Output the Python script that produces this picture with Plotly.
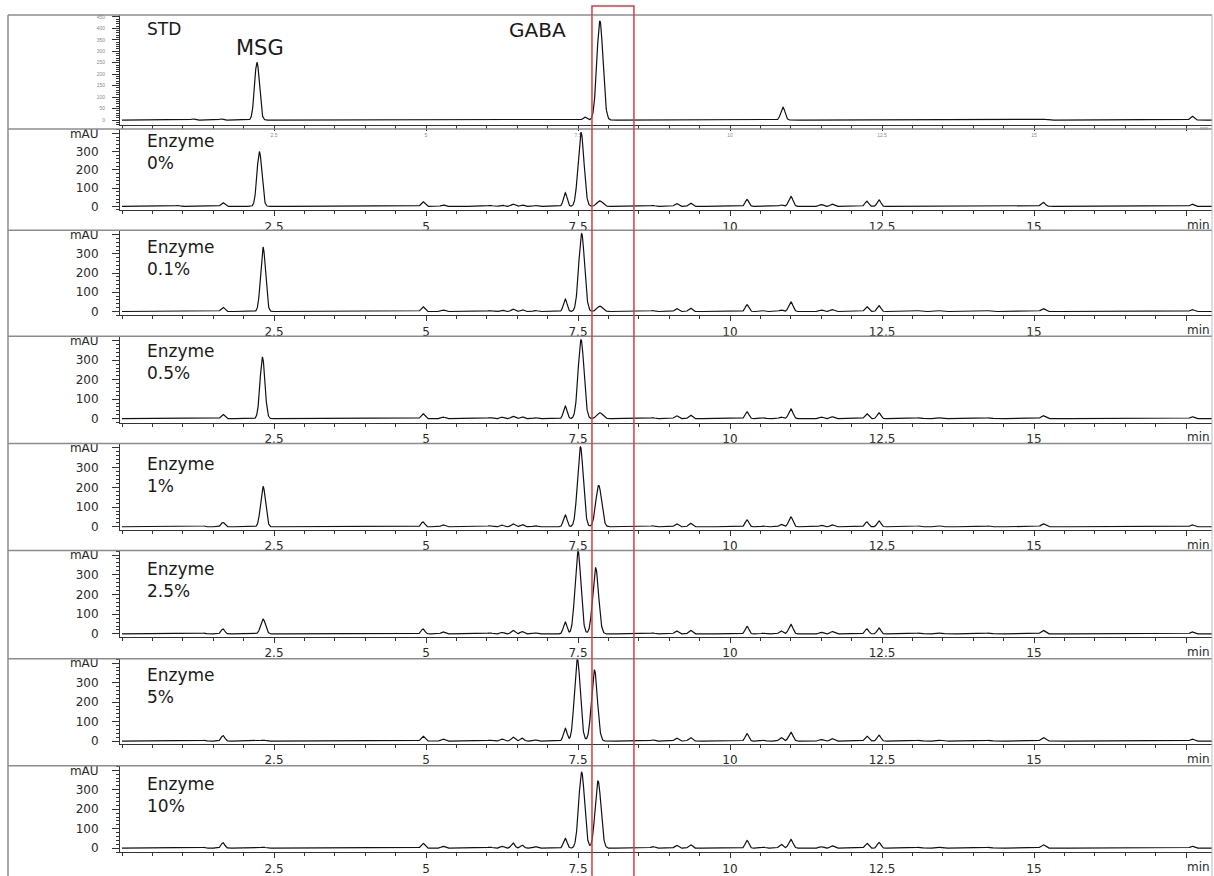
import numpy as np
import plotly.graph_objects as go

W, H = 1214, 876

# ---------------- data ----------------
# STD chromatogram peak table (retention time, min / height, arbitrary units)
std_rt = [1.17, 1.63, 2.22, 7.61, 7.86, 10.87, 15.15, 17.60]
std_h = [5, 5, 252, 13, 432, 56, 4, 17]
std_w = [0.03, 0.03, 0.04, 0.03, 0.05, 0.035, 0.05, 0.03]

sample_labels = ["Enzyme<br>0%", "Enzyme<br>0.1%", "Enzyme<br>0.5%", "Enzyme<br>1%",
                 "Enzyme<br>2.5%", "Enzyme<br>5%", "Enzyme<br>10%"]

# common peak retention times (min) for the enzyme samples
peak_rt = [0.92, 1.35, 1.66, 2.32, 4.95, 5.28, 6.05, 6.25, 6.43, 6.58, 6.80, 7.29, 7.55, 7.84,
           8.73, 9.12, 9.35, 10.28, 10.55, 10.84, 11.00, 11.50, 11.68, 12.25, 12.45, 13.10,
           13.45, 13.90, 14.25, 15.15, 17.60]
peak_w = [0.03, 0.03, 0.03, 0.04, 0.03, 0.03, 0.04, 0.03, 0.03, 0.03, 0.03, 0.03, 0.048, 0.048,
          0.03, 0.03, 0.03, 0.03, 0.03, 0.03, 0.035, 0.03, 0.03, 0.03, 0.03, 0.05,
          0.05, 0.05, 0.05, 0.035, 0.03]

# per-sample retention times of MSG, main peak and GABA
msg_rt = [2.26, 2.32, 2.31, 2.32, 2.32, 2.32, 2.32]
main_rt = [7.55, 7.56, 7.55, 7.54, 7.50, 7.49, 7.56]
gaba_rt = [7.86, 7.86, 7.86, 7.84, 7.79, 7.77, 7.83]

# peak heights (mAU) per sample, aligned with peak_rt
h_0 = [5, 3, 20, 300, 25, 8, 5, 8, 12, 8, 5, 75, 405, 30, 5, 15, 18, 38, 4, 8, 55, 10, 12, 28, 35, 4, 4, 3, 4, 22, 12]
h_01 = [3, 3, 22, 335, 25, 8, 5, 8, 12, 10, 5, 65, 405, 28, 5, 15, 18, 35, 4, 8, 50, 8, 10, 25, 30, 4, 4, 3, 4, 15, 10]
h_05 = [3, 3, 22, 315, 25, 8, 5, 8, 12, 10, 5, 65, 405, 30, 5, 15, 18, 35, 4, 8, 50, 8, 10, 25, 30, 4, 4, 3, 4, 15, 10]
h_1 = [3, 4, 22, 205, 25, 10, 5, 8, 15, 12, 5, 60, 405, 210, 5, 15, 18, 35, 4, 12, 50, 8, 10, 25, 30, 4, 4, 3, 4, 15, 10]
h_25 = [3, 4, 25, 75, 25, 10, 5, 8, 18, 12, 5, 60, 420, 335, 5, 15, 18, 38, 4, 15, 48, 8, 12, 25, 30, 4, 4, 3, 4, 18, 10]
h_5 = [3, 4, 28, 5, 25, 10, 5, 10, 20, 15, 6, 65, 420, 365, 6, 15, 18, 38, 4, 18, 45, 8, 12, 25, 30, 4, 4, 3, 4, 18, 10]
h_10 = [3, 4, 28, 5, 25, 10, 5, 10, 27, 15, 8, 50, 390, 345, 8, 15, 18, 40, 5, 20, 45, 8, 12, 25, 30, 4, 4, 3, 4, 18, 10]
sample_heights = [h_0, h_01, h_05, h_1, h_25, h_5, h_10]

x_tickvals = [2.5, 5, 7.5, 10, 12.5, 15, 17.5]
x_ticktext = ["2.5", "5", "7.5", "10", "12.5", "15", ""]
x_unit = "min"
y_tickvals = [0, 100, 200, 300, 400]
y_ticktext = ["0", "100", "200", "300", "mAU"]
std_y_tickvals = [0, 50, 100, 150, 200, 250, 300, 350, 400, 450]
std_y_ticktext = ["0", "50", "100", "150", "200", "250", "300", "350", "400", "450"]

gaba_window = [7.73, 8.42]

# ---------------- build curves ----------------
t = np.arange(0.0, 17.95, 0.004)


def trace_from_peaks(rts, hs, ws):
    y = np.zeros_like(t)
    for r, h, w in zip(rts, hs, ws):
        y += h * np.exp(-0.5 * ((t - r) / w) ** 2)
    return y


# ---------------- layout geometry (pixels) ----------------
# (panel top, zero line, axis line)
panels = [(13, 119, 124), (128, 206, 210), (230, 312, 316), (337, 420, 424),
          (445, 529, 532), (553, 637, 640), (662, 745, 748), (770, 853, 857)]
# centre of the two-line sample label in each enzyme panel
label_y = [151, 258, 363, 477, 583, 690, 799]
x_left, x_right = 120, 1212
px_per_min = 60.8
x_range = [(x_left - 122) / px_per_min, (x_right - 122) / px_per_min]


def py(p):
    return 1 - p / H


def pxx(p):
    return p / W


fig = go.Figure()
axis_font = dict(family="DejaVu Sans, Liberation Sans, Arial, sans-serif", size=12, color="#2a2a2a")
tiny_font = dict(family="Liberation Sans, Arial", size=5, color="#8a8a8a")
label_family = "DejaVu Sans, Noto Sans, sans-serif"
label_color = "#1a1a1a"
layout = {}
annotations = []

for i, (top, zero, axl) in enumerate(panels):
    n = i + 1
    xa = "x" if n == 1 else f"x{n}"
    ya = "y" if n == 1 else f"y{n}"
    xkey = "xaxis" if n == 1 else f"xaxis{n}"
    ykey = "yaxis" if n == 1 else f"yaxis{n}"

    if i == 0:
        y = trace_from_peaks(std_rt, std_h, std_w)
        scale = (zero - top - 2) / 450.0
        yticks = dict(tickvals=std_y_tickvals, ticktext=std_y_ticktext, tickfont=tiny_font,
                      minor=dict(dtick=10, ticklen=3, tickcolor="#333", ticks="outside"))
        xfont = tiny_font
    else:
        k = i - 1
        rts = list(peak_rt)
        rts[3] = msg_rt[k]
        rts[12] = main_rt[k]
        rts[13] = gaba_rt[k]
        y = trace_from_peaks(rts, sample_heights[k], peak_w)
        scale = (zero - top - 4.5) / 400.0
        yticks = dict(tickvals=y_tickvals, ticktext=y_ticktext, tickfont=axis_font,
                      minor=dict(dtick=20, ticklen=3, tickcolor="#333", ticks="outside"))
        xfont = axis_font

    yr = [-(axl - zero) / scale, (zero - top) / scale]

    fig.add_trace(go.Scatter(x=t, y=y, mode="lines", xaxis=xa, yaxis=ya,
                             line=dict(color="#111111", width=1.2), showlegend=False,
                             hoverinfo="skip"))

    layout[xkey] = dict(domain=[pxx(x_left), pxx(x_right)], range=x_range, anchor=ya,
                        showgrid=False, zeroline=False, showline=True, linecolor="#333",
                        linewidth=1, ticks="outside", ticklen=5, tickcolor="#333",
                        tickvals=x_tickvals, ticktext=x_ticktext, tickfont=xfont,
                        minor=dict(dtick=0.5, tick0=0, ticklen=3, tickcolor="#333",
                                   ticks="outside"))
    layout[ykey] = dict(domain=[py(axl), py(top)], range=yr, anchor=xa,
                        showgrid=False, zeroline=False, showline=True, linecolor="#333",
                        linewidth=1, ticks="outside", ticklen=7, tickcolor="#333",
                        ticklabelstandoff=11 if i > 0 else 6, **yticks)

    if i > 0:
        annotations.append(dict(text=sample_labels[i - 1], xref="paper", yref="paper",
                                x=pxx(145), y=py(label_y[i - 1]), xanchor="left",
                                yanchor="middle", align="left", showarrow=False,
                                font=dict(size=17, family=label_family, color=label_color)))
        annotations.append(dict(text=x_unit, xref="paper", yref="paper",
                                x=pxx(1212), y=py(axl + 15), xanchor="right", yanchor="middle",
                                showarrow=False, font=axis_font))
    else:
        annotations.append(dict(text=x_unit, xref="paper", yref="paper",
                                x=pxx(1210), y=py(axl + 3), xanchor="right", yanchor="middle",
                                showarrow=False, font=tiny_font))

annotations += [
    dict(text="STD", xref="paper", yref="paper", x=pxx(145), y=py(27), xanchor="left",
         yanchor="middle", showarrow=False,
         font=dict(size=17, family=label_family, color=label_color)),
    dict(text="MSG", xref="paper", yref="paper", x=pxx(260), y=py(46), xanchor="center",
         yanchor="middle", showarrow=False,
         font=dict(size=21, family=label_family, color=label_color)),
    dict(text="GABA", xref="paper", yref="paper", x=pxx(537), y=py(28), xanchor="center",
         yanchor="middle", showarrow=False,
         font=dict(size=20, family=label_family, color=label_color)),
]

shapes = []
# panel separators and frame
for top, zero, axl in panels:
    shapes.append(dict(type="line", xref="paper", yref="paper", x0=pxx(8), x1=pxx(1212),
                       y0=py(top), y1=py(top), line=dict(color="#8c8c8c", width=1.5)))
shapes.append(dict(type="line", xref="paper", yref="paper", x0=pxx(8), x1=pxx(8),
                   y0=py(13), y1=-0.05, line=dict(color="#8c8c8c", width=1.5)))
shapes.append(dict(type="line", xref="paper", yref="paper", x0=pxx(1212), x1=pxx(1212),
                   y0=py(13), y1=-0.05, line=dict(color="#bbbbbb", width=1)))
# red GABA window
shapes.append(dict(type="rect", xref="x", yref="paper", x0=gaba_window[0], x1=gaba_window[1],
                   y0=-0.1, y1=py(4), line=dict(color="#dd3a44", width=1.5),
                   fillcolor="rgba(0,0,0,0)"))

fig.update_layout(width=W, height=H, margin=dict(l=0, r=0, t=0, b=0),
                  paper_bgcolor="white", plot_bgcolor="white",
                  annotations=annotations, shapes=shapes, **layout)

fig.write_html("out.html")
